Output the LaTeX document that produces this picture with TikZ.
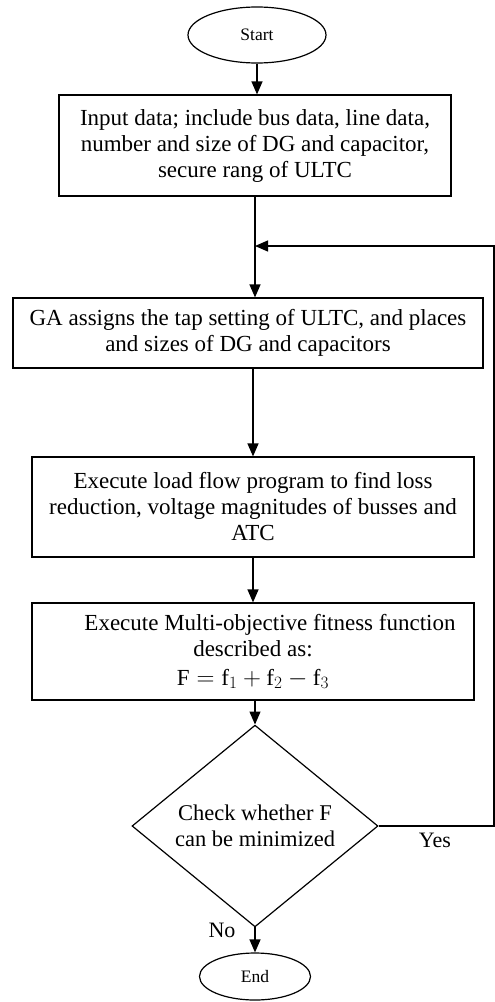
\documentclass[tikz,border=0pt]{standalone}
\usepackage{fontspec}
\setmainfont{Liberation Serif}
\usetikzlibrary{arrows.meta,shapes.geometric}
\begin{document}
\begin{tikzpicture}[x=1pt,y=-1pt, line width=1.2pt,
 box/.style={draw, rectangle, inner sep=0pt, align=center, font=\fontsize{23}{26}\selectfont},
 term/.style={draw, ellipse, inner sep=0pt, font=\fontsize{17.5}{20}\selectfont},
 arr/.style={-{Triangle[length=13pt,width=11pt]}},
 lbl/.style={font=\fontsize{22}{26}\selectfont}]
\useasboundingbox (0,0) rectangle (495,1002);
\node[term, minimum width=138pt, minimum height=56pt] (start) at (257,35) {Start};
\node[box, minimum width=392pt, minimum height=101pt] (b1) at (255,145.5) {Input data; include bus data, line data,\\ number and size of DG and capacitor,\\ secure rang of ULTC};
\node[box, minimum width=470pt, minimum height=70pt] (b2) at (248,333) {GA assigns the tap setting of ULTC, and places\\ and sizes of DG and capacitors};
\node[box, minimum width=442pt, minimum height=100pt] (b3) at (253,507) {Execute load flow program to find loss\\ reduction, voltage magnitudes of busses and\\ ATC};
\node[box, minimum width=442pt, minimum height=97pt] (b4) at (253,651.5) {\hspace*{34pt}Execute Multi-objective fitness function\\ described as:\\[3pt] $\mathrm{F}=\mathrm{f}_1+\mathrm{f}_2-\mathrm{f}_3$};
\node[draw, diamond, minimum width=246pt, minimum height=163pt, inner sep=0pt, align=center, font=\fontsize{22.5}{26}\selectfont] (d) at (255,826) {Check whether F\\ can be minimized};
\node[term, minimum width=111pt, minimum height=47pt] (end) at (255,976.5) {End};
\coordinate (fb) at (494,246);
\draw[arr] (start.south) -- (start.south |- b1.north);
\draw[arr] (b1.south) -- (b1.south |- b2.north);
\draw[arr] (b2.south -| b3.north) -- (b3.north);
\draw[arr] (b3.south) -- (b4.north);
\draw[arr] (b4.south -| d.north) -- (d.north);
\draw[arr] (d.south) -- (end.north);
\draw[arr] (d.east) -- (d.east -| fb) -- (fb) -- (fb -| b1.south);
\node[lbl] (yes) at (435,840) {Yes};
\node[lbl] (no) at (222,930) {No};
\end{tikzpicture}
\end{document}
